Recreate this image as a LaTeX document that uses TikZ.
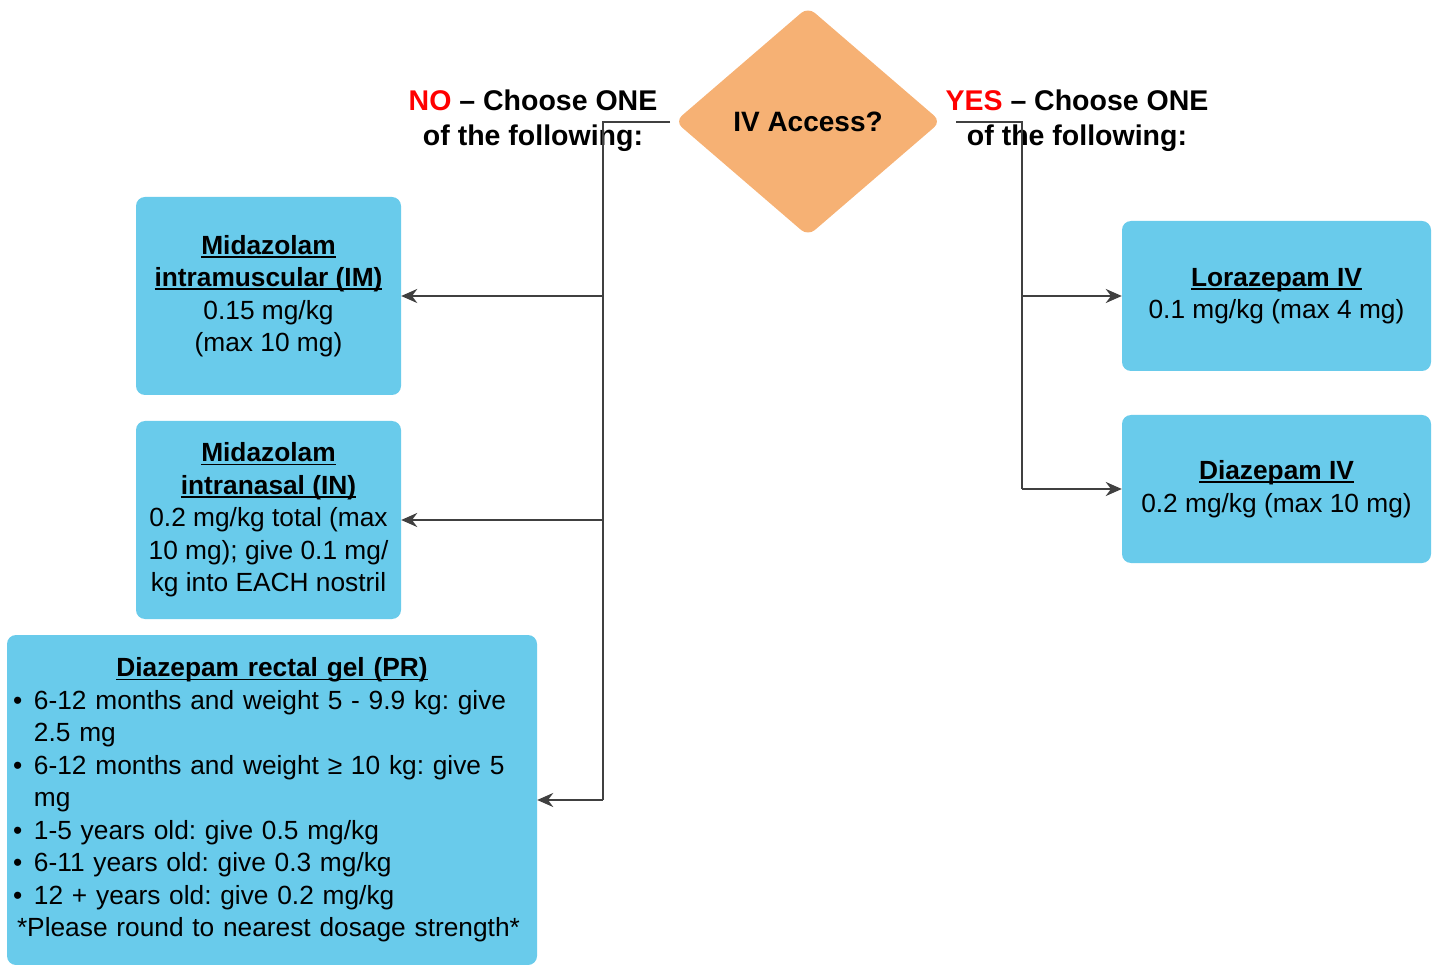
\documentclass[tikz,border=0pt]{standalone}
\usepackage{fontspec}
\setmainfont{Liberation Sans}
\usetikzlibrary{shapes.geometric,arrows.meta}
\definecolor{boxblue}{HTML}{69CBEB}
\definecolor{decorange}{HTML}{F6B174}
\definecolor{linegray}{HTML}{404040}
\definecolor{answerred}{HTML}{FF0000}
\frenchspacing
% bold title with a rule set close under the baseline
\newcommand{\drugtitle}[1]{{\setbox0\hbox{\bfseries #1}%
  \rlap{\rule[-3.5pt]{\wd0}{1.7pt}}\box0}}
\newcommand{\bul}{\makebox[23pt][l]{\hspace{2pt}\textbullet}}
\newcommand{\hang}{\hspace*{23pt}}
\begin{document}
\begin{tikzpicture}[x=1pt,y=-1pt,
  dose/.style={fill=boxblue, rounded corners=9pt, align=center,
    font=\fontsize{26.3}{32.5}\selectfont, inner sep=0pt},
  decision/.style={shape=diamond, fill=decorange, rounded corners=9pt,
    minimum width=266pt, minimum height=229pt, inner sep=0pt,
    font=\fontsize{28}{34}\selectfont\bfseries},
  branchlabel/.style={font=\fontsize{28.5}{35}\selectfont\bfseries, align=center},
  trunk/.style={draw=linegray, line width=2.4pt},
  link/.style={draw=linegray, line width=2.4pt, -{Stealth[length=16pt,width=14pt]}}]
\useasboundingbox (0,0) rectangle (1436,965);

% decision
\node[decision] (iv) at (808,121.5) {IV Access?};

% branch captions
\node[branchlabel] (nolab) at (533,121)
  {{\color{answerred}NO} -- Choose ONE\\of the following:};
\node[branchlabel] (yeslab) at (1077,121)
  {{\color{answerred}YES} -- Choose ONE\\of the following:};

% NO branch: treatment boxes
\node[dose, minimum width=265pt, minimum height=198pt] (im) at (268.5,296)
  {\drugtitle{Midazolam}\\\drugtitle{intramuscular (IM)}\\0.15 mg/kg\\(max 10 mg)};
\node[dose, minimum width=265pt, minimum height=198pt] (in) at (268.5,520)
  {\drugtitle{Midazolam}\\\drugtitle{intranasal (IN)}\\0.2 mg/kg total (max\\10 mg); give 0.1 mg/\\kg into EACH nostril};
\node[dose, minimum width=530pt, minimum height=330pt, align=left,
      text width=522pt] (pr) at (272,800)
  {\makebox[522pt][c]{\drugtitle{Diazepam rectal gel (PR)}}\\
   \bul 6-12 months and weight 5 - 9.9 kg: give\\
   \hang 2.5 mg\\
   \bul 6-12 months and weight ≥ 10 kg: give 5\\
   \hang mg\\
   \bul 1-5 years old: give 0.5 mg/kg\\
   \bul 6-11 years old: give 0.3 mg/kg\\
   \bul 12 + years old: give 0.2 mg/kg\\
   \hspace*{6pt}*Please round to nearest dosage strength*};

% YES branch: treatment boxes
\node[dose, minimum width=309pt, minimum height=150pt] (lz) at (1276.5,296)
  {\drugtitle{Lorazepam IV}\\0.1 mg/kg (max 4 mg)};
\node[dose, minimum width=309pt, minimum height=148pt] (dz) at (1276.5,489)
  {\drugtitle{Diazepam IV}\\0.2 mg/kg (max 10 mg)};

% connector junctions
\coordinate (nstart) at (670,122);
\coordinate (ncorner) at (603,122);
\coordinate (nim) at (603,296);
\coordinate (nin) at (603,520);
\coordinate (npr) at (603,800);
\coordinate (ystart) at (956,122);
\coordinate (ycorner) at (1022,122);
\coordinate (ylz) at (1022,296);
\coordinate (ydz) at (1022,489);

% NO connectors
\draw[trunk] (nstart) -- (ncorner) -- (npr);
\draw[link] (nim) -- (im.east);
\draw[link] (nin) -- (in.east);
\draw[link] (npr) -- (pr.east);

% YES connectors
\draw[trunk] (ystart) -- (ycorner) -- (ydz);
\draw[link] (ylz) -- (lz.west);
\draw[link] (ydz) -- (dz.west);
\end{tikzpicture}
\end{document}
